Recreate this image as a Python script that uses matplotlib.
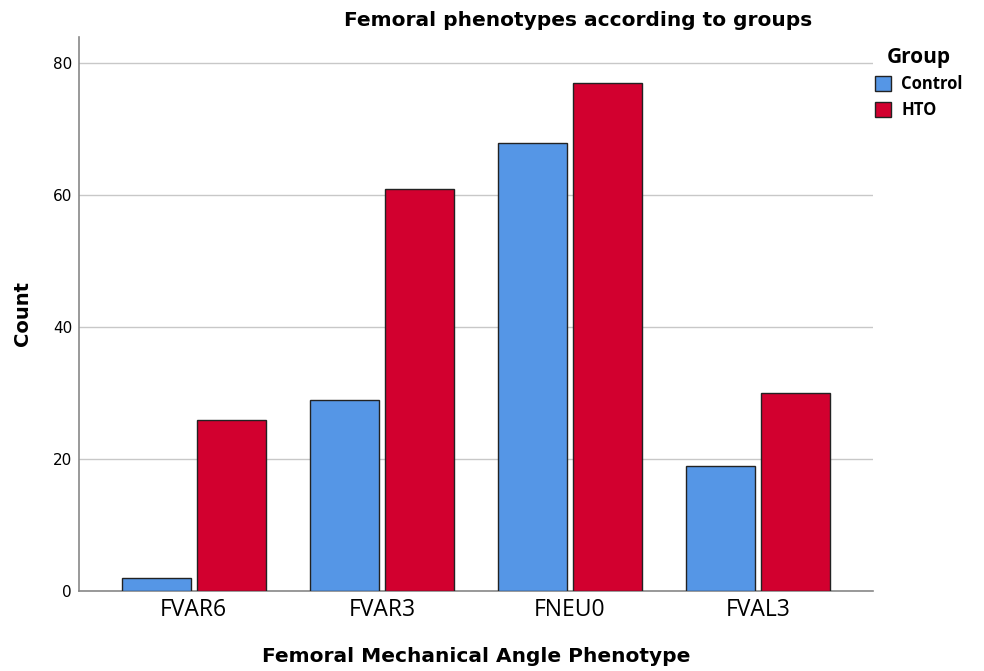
import numpy as np
import matplotlib.pyplot as plt
from matplotlib.patches import Patch

plt.rcParams['font.family'] = ['Open Sans', 'DejaVu Sans']

categories = ['FVAR6', 'FVAR3', 'FNEU0', 'FVAL3']
groups = ['Control', 'HTO']
control = [2, 29, 68, 19]
hto = [26, 61, 77, 30]
colors = ['#5596e6', '#d2002f']

fig = plt.figure(figsize=(9.84, 6.71), dpi=100)
ax = fig.add_axes([0.0803, 0.1192, 0.8067, 0.8257])

x = np.arange(len(categories))
w = 0.367
off = 0.2
ax.bar(x - off, control, width=w, color=colors[0], edgecolor='#222222', linewidth=1.0, zorder=3)
ax.bar(x + off, hto, width=w, color=colors[1], edgecolor='#222222', linewidth=1.0, zorder=3)

ax.set_xlim(-0.61, 3.61)
ax.set_ylim(0, 84)
ax.set_yticks([0, 20, 40, 60, 80])
ax.set_yticklabels([str(v) for v in [0, 20, 40, 60, 80]], family='DejaVu Sans')
ax.set_xticks(x)
ax.set_xticklabels(categories, fontsize=16.5, family=['Liberation Sans Narrow', 'Open Sans'])
ax.tick_params(axis='y', labelsize=11, length=0, pad=5)
ax.tick_params(axis='x', length=0, pad=5)
ax.grid(axis='y', color='#c8c8c8', linewidth=1.0, zorder=0)
for s in ['top', 'right']:
    ax.spines[s].set_visible(False)
for s in ['left', 'bottom']:
    ax.spines[s].set_color('#888888')
    ax.spines[s].set_linewidth(1.2)

# title sits right of the axes centre in the original
fig.text(0.588, 0.970, 'Femoral phenotypes according to groups', fontsize=14.5,
         fontweight='bold', family='DejaVu Sans', ha='center', va='center')
ax.set_ylabel('Count', fontsize=14, fontweight='bold', family='DejaVu Sans', labelpad=15)
ax.set_xlabel('Femoral Mechanical Angle Phenotype', fontsize=14.5, fontweight='bold',
              family='DejaVu Sans', labelpad=18)

handles = [Patch(facecolor=c, edgecolor='#222222', label=g) for c, g in zip(colors, groups)]
leg = fig.legend(handles=handles, title='Group', loc='upper left', bbox_to_anchor=(0.882, 0.94),
                 frameon=False, fontsize=12, handlelength=1.0, handleheight=1.0,
                 handletextpad=0.6, labelspacing=0.45, borderaxespad=0)
leg.get_title().set_fontweight('bold')
leg.get_title().set_fontsize(15)
for t in leg.get_texts():
    t.set_fontweight('bold')

fig.savefig('out.png', dpi=100)
